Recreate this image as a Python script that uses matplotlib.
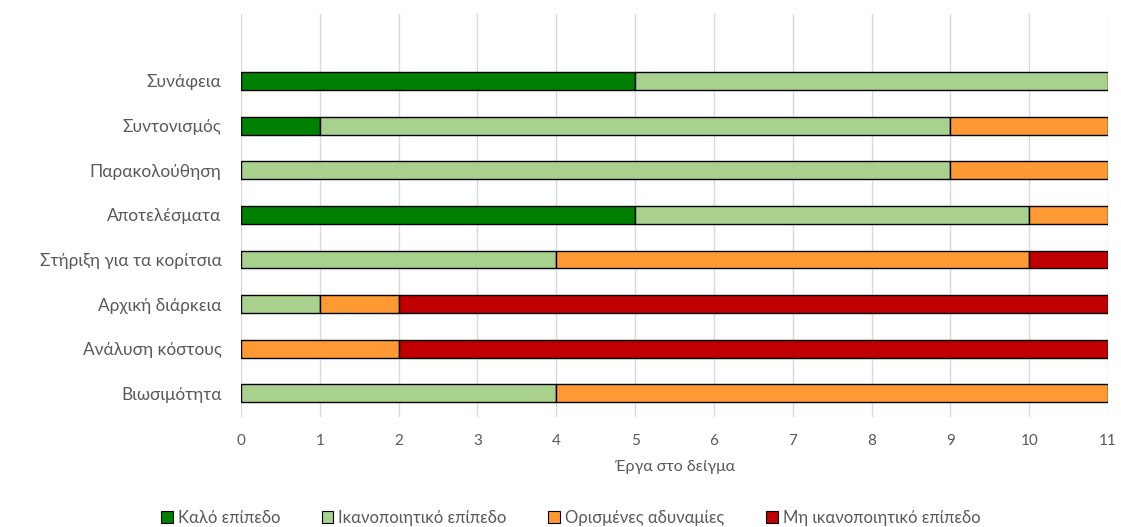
import matplotlib
matplotlib.use("Agg")
import matplotlib.pyplot as plt
import numpy as np

categories = ["Συνάφεια", "Συντονισμός", "Παρακολούθηση", "Αποτελέσματα",
              "Στήριξη για τα κορίτσια", "Αρχική διάρκεια", "Ανάλυση κόστους", "Βιωσιμότητα"]
series_names = ["Καλό επίπεδο", "Ικανοποιητικό επίπεδο", "Ορισμένες αδυναμίες", "Μη ικανοποιητικό επίπεδο"]
good = [5, 1, 0, 5, 0, 0, 0, 0]
satisfactory = [6, 8, 9, 5, 4, 1, 0, 4]
weaknesses = [0, 2, 2, 1, 6, 1, 2, 7]
unsatisfactory = [0, 0, 0, 0, 1, 9, 9, 0]
colors = ["#008000", "#A9D18E", "#FF9933", "#C00000"]
xticks = list(range(0, 12))

plt.rcParams['font.family'] = ['Lato', 'DejaVu Sans']

fig = plt.figure(figsize=(11.21, 5.27), dpi=100)
ax = fig.add_axes([0.215, 0.2087, 0.7734, 0.7647])

y = np.arange(len(categories))
left = np.zeros(len(categories))
handles = []
for name, vals, c in zip(series_names, [good, satisfactory, weaknesses, unsatisfactory], colors):
    vals = np.array(vals, dtype=float)
    mask = vals > 0
    ax.barh(y[mask], vals[mask], left=left[mask], height=0.4, color=c,
            edgecolor="black", linewidth=1.0, zorder=3)
    handles.append(plt.Rectangle((0, 0), 1, 1, facecolor=c, edgecolor="black", linewidth=0.8))
    left += vals

ax.set_xlim(0, 11)
ax.set_ylim(7.53, -1.5)
ax.set_xticks(xticks)
ax.set_yticks(y)
ax.set_yticklabels(categories, fontsize=12.4, color="#595959")
ax.tick_params(axis="x", labelsize=11, labelcolor="#595959", length=0, pad=12)
ax.tick_params(axis="y", length=0, pad=14)
ax.grid(axis="x", color="#D9D9D9", linewidth=1.0, zorder=0)
for s in ax.spines.values():
    s.set_visible(False)
ax.set_xlabel("Έργα στο δείγμα", fontsize=11.5, color="#595959", labelpad=9)

fig.legend(handles, series_names, loc="lower center", bbox_to_anchor=(0.509, -0.026), ncol=4,
           frameon=False, fontsize=12, labelcolor="#595959", handlelength=0.7, handleheight=0.7,
           handletextpad=0.3, columnspacing=2.5)

fig.savefig("out.png", dpi=100)
